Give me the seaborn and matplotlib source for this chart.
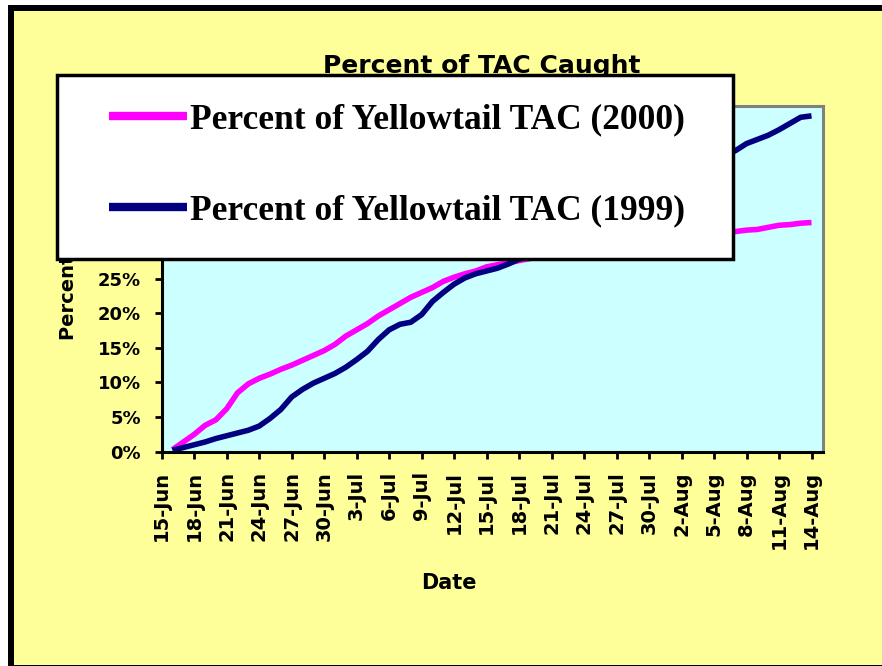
import matplotlib
matplotlib.use("Agg")
import matplotlib.pyplot as plt
import matplotlib.dates as mdates
from matplotlib.patches import Rectangle
from matplotlib.lines import Line2D
import pandas as pd
import seaborn as sns

# ---------------- data ----------------
title = "Percent of TAC Caught"
x_label = "Date"
y_label = "Percent of TAC"
series_names = ["Percent of Yellowtail TAC (2000)", "Percent of Yellowtail TAC (1999)"]
series_colors = ["#FF00FF", "#000080"]

dates = pd.date_range("2000-06-16", "2000-08-14", freq="D")
pct_2000 = [0.3, 1.4, 2.5, 3.8, 4.6, 6.2, 8.5, 9.8, 10.6, 11.2,
            11.9, 12.5, 13.2, 13.9, 14.6, 15.5, 16.7, 17.6, 18.5, 19.6,
            20.5, 21.4, 22.3, 23.0, 23.7, 24.6, 25.2, 25.7, 26.1, 26.7,
            27.0, 27.3, 27.6, 27.9, 28.1, 28.4, 28.7, 29.0, 29.2, 29.5,
            29.7, 30.0, 30.2, 30.4, 30.6, 30.8, 31.0, 31.1, 31.3, 31.4,
            31.5, 31.6, 31.8, 32.0, 32.1, 32.4, 32.7, 32.8, 33.0, 33.1]
pct_1999 = [0.2, 0.6, 1.0, 1.4, 1.9, 2.3, 2.7, 3.1, 3.7, 4.8,
            6.1, 7.9, 9.0, 9.9, 10.6, 11.3, 12.2, 13.3, 14.5, 16.2,
            17.6, 18.4, 18.7, 19.8, 21.7, 23.0, 24.2, 25.1, 25.7, 26.1,
            26.5, 27.1, 27.8, 28.4, 28.9, 29.6, 30.3, 31.0, 31.8, 32.6,
            33.5, 34.4, 35.3, 36.1, 37.0, 37.9, 38.8, 39.6, 40.5, 41.2,
            42.0, 42.8, 43.5, 44.5, 45.1, 45.7, 46.5, 47.4, 48.3, 48.5]
y_ticks = [0, 5, 10, 15, 20, 25, 30, 35, 40, 45, 50]
x_tick_dates = pd.date_range("2000-06-15", "2000-08-14", freq="3D")
x_start = pd.Timestamp("2000-06-15")
x_end = pd.Timestamp("2000-06-15") + pd.Timedelta(days=61.06)

# ---------------- figure ----------------
W, H = 882, 666
def fx(px):
    return px / W
def fy(py):
    return 1 - py / H

sns.set_style("ticks")
plt.rcParams.update({"text.color": "black", "axes.labelcolor": "black",
                     "xtick.color": "black", "ytick.color": "black"})
fig = plt.figure(figsize=(W / 100, H / 100), dpi=100, facecolor="white")

# outer yellow chart area with black frame
fig.add_artist(Rectangle((fx(8), 0), 1 - fx(8), fy(5), transform=fig.transFigure,
                         facecolor="#FFFF99", edgecolor="none", zorder=-10))
fig.add_artist(Rectangle((fx(8), fy(10.7)), 1 - fx(8), 5.7 / H, transform=fig.transFigure,
                         facecolor="black", edgecolor="none", zorder=-9))
fig.add_artist(Rectangle((fx(8), 0), 6 / W, fy(5), transform=fig.transFigure,
                         facecolor="black", edgecolor="none", zorder=-9))
fig.add_artist(Rectangle((fx(8), 0), 1 - fx(8), 1.2 / H, transform=fig.transFigure,
                         facecolor="black", edgecolor="none", zorder=-9))

ax = fig.add_axes([fx(161.7), fy(451.7), fx(823) - fx(161.7), (451.7 - 105.5) / H])
ax.set_facecolor("#CCFFFF")

df = pd.DataFrame({
    "date": list(dates) * 2,
    "pct": pct_2000 + pct_1999,
    "series": [series_names[0]] * len(pct_2000) + [series_names[1]] * len(pct_1999),
})
sns.lineplot(data=df, x="date", y="pct", hue="series", hue_order=series_names,
             palette=dict(zip(series_names, series_colors)), linewidth=4,
             legend=False, ax=ax, solid_capstyle="butt")

ax.set_xlim(x_start, x_end)
ax.set_ylim(0, 50)
ax.set_yticks(y_ticks)
ax.set_yticklabels([f"{v}%" for v in y_ticks])
ax.set_xticks(x_tick_dates)
ax.xaxis.set_major_formatter(mdates.DateFormatter("%-d-%b"))
ax.set_xlabel("")
ax.set_ylabel("")
ax.grid(False)

for lab in ax.get_yticklabels():
    lab.set_fontweight("bold")
    lab.set_fontsize(13)
    lab.set_color("black")
for lab in ax.get_xticklabels():
    lab.set_fontweight("bold")
    lab.set_fontsize(14)
    lab.set_rotation(90)
    lab.set_ha("center")
    lab.set_va("top")
    lab.set_color("black")

ax.tick_params(axis="y", direction="out", length=5, width=2, color="black", pad=10)
ax.tick_params(axis="x", direction="out", length=5, width=2, color="black", pad=9)

for side in ["top", "right"]:
    ax.spines[side].set_color("#808080")
    ax.spines[side].set_linewidth(2.2)
for side in ["left", "bottom"]:
    ax.spines[side].set_color("black")
    ax.spines[side].set_linewidth(2.2)

# titles
fig.text(fx(482), fy(66), title, ha="center", va="center", fontsize=18, fontweight="bold",
         color="black", zorder=3)
fig.text(fx(449), fy(583), x_label, ha="center", va="center", fontsize=15, fontweight="bold",
         color="black", zorder=3)
fig.text(fx(68), fy(340), y_label, rotation=90, ha="center", va="bottom", fontsize=14,
         fontweight="bold", color="black", zorder=3)

# legend box
fig.add_artist(Rectangle((fx(57), fy(259)), (733 - 57) / W, (259 - 75) / H,
                         transform=fig.transFigure, facecolor="white", edgecolor="black",
                         linewidth=2.5, zorder=5))
handles = [Line2D([], [], color=c, linewidth=6, solid_capstyle="butt") for c in series_colors]
leg = fig.legend(handles, series_names, loc="upper left", bbox_to_anchor=(fx(109), fy(103)),
                 frameon=False, borderpad=0, borderaxespad=0, handlelength=2.2,
                 handletextpad=0.09, labelspacing=1.66,
                 prop={"family": "Liberation Serif", "weight": "bold", "size": 25.5})
leg.set_zorder(6)
for t in leg.get_texts():
    t.set_color("black")

fig.savefig("out.png", dpi=100, facecolor=fig.get_facecolor())
